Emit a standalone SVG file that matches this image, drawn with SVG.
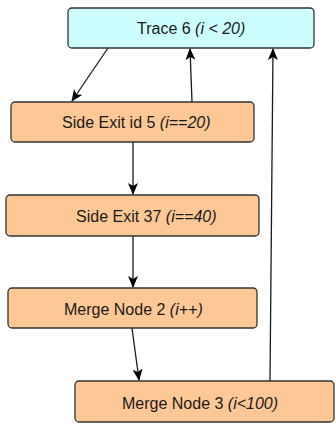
<svg xmlns="http://www.w3.org/2000/svg" width="336" height="424" viewBox="0 0 336 424">
  <style>
    .box { stroke: #333; stroke-width: 1.3; }
    .trace { fill: #ccfeff; }
    .exit { fill: #fdc895; }
    .lbl { font-family: "Liberation Sans", Arial, sans-serif; font-size: 16px; fill: #1a1a1a; }
    .cond { font-style: italic; }
    .edge { stroke: #1a1a1a; stroke-width: 1.3; fill: none; marker-end: url(#arrow); }
  </style>
  <defs>
    <marker id="arrow" markerWidth="12" markerHeight="10" refX="11" refY="5" orient="auto" markerUnits="userSpaceOnUse">
      <path d="M0,0 L12,5 L0,10 L3,5 z" fill="#000"/>
    </marker>
  </defs>
  <rect width="336" height="424" fill="#fff"/>

  <g id="connectors">
    <line class="edge" x1="108" y1="48" x2="72" y2="101"/>
    <line class="edge" x1="192" y1="102" x2="190" y2="49"/>
    <line class="edge" x1="133" y1="142" x2="133" y2="194"/>
    <line class="edge" x1="133" y1="236" x2="133" y2="287"/>
    <line class="edge" x1="132" y1="328" x2="139" y2="380"/>
    <line class="edge" x1="270" y1="381" x2="273" y2="49"/>
  </g>

  <g id="trace6">
    <rect class="box trace" x="68" y="8" width="246" height="40" rx="4"/>
    <text class="lbl" x="137" y="34">Trace 6 <tspan class="cond">(i &lt; 20)</tspan></text>
  </g>
  <g id="sideExit5">
    <rect class="box exit" x="11" y="102" width="243" height="40" rx="4"/>
    <text class="lbl" x="62" y="128">Side Exit id 5 <tspan class="cond">(i==20)</tspan></text>
  </g>
  <g id="sideExit37">
    <rect class="box exit" x="6" y="195" width="253" height="41" rx="4"/>
    <text class="lbl" x="76" y="222">Side Exit 37 <tspan class="cond">(i==40)</tspan></text>
  </g>
  <g id="mergeNode2">
    <rect class="box exit" x="8" y="288" width="249" height="40" rx="4"/>
    <text class="lbl" x="64" y="315">Merge Node 2 <tspan class="cond">(i++)</tspan></text>
  </g>
  <g id="mergeNode3">
    <rect class="box exit" x="75" y="381" width="259" height="41" rx="4"/>
    <text class="lbl" x="122" y="409">Merge Node 3 <tspan class="cond">(i&lt;100)</tspan></text>
  </g>
</svg>
